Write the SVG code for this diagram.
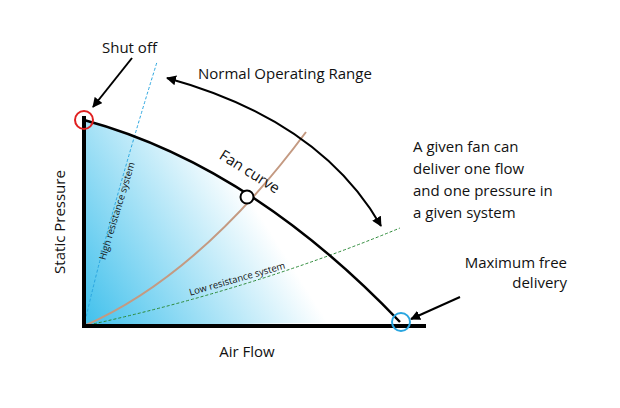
<svg xmlns="http://www.w3.org/2000/svg" width="620" height="408" viewBox="0 0 620 408">
<style>
text{font-family:"Open Sans","Liberation Sans",sans-serif;fill:#111}
.l{font-size:15px}
.s{font-size:9.5px}
.ar{fill:none;stroke:#000;stroke-width:2}
</style>
<defs>
<linearGradient id="g" gradientUnits="userSpaceOnUse" x1="84" y1="326" x2="260" y2="215">
<stop offset="0" stop-color="#3fc0ec"/><stop offset="1" stop-color="#ffffff"/>
</linearGradient>
<marker id="ah" viewBox="0 0 10 10" refX="9" refY="5" markerWidth="5" markerHeight="5" orient="auto-start-reverse">
<path d="M0,0L10,5L0,10z" fill="#000"/></marker>
</defs>
<rect width="620" height="408" fill="#fff"/>
<path d="M84,120 Q250,165 400,322 L84,326Z" fill="url(#g)"/>
<g id="connectors">
<path d="M84,326 Q108,220 157,62" fill="none" stroke="#2aa6e0" stroke-width="1" stroke-dasharray="3,2"/>
<path d="M84,326 Q250,290 400,228" fill="none" stroke="#2e8b3a" stroke-width="1" stroke-dasharray="3,2"/>
<path d="M84,326 Q200,275 306,132" fill="none" stroke="#c49a82" stroke-width="2"/>
<path id="fan" d="M84,120 Q250,165 400,322" fill="none" stroke="#000" stroke-width="2.5"/>
<path d="M84,116 V326 H426" fill="none" stroke="#000" stroke-width="4"/>
<path class="ar" d="M167,78 Q320,120 381,226" marker-start="url(#ah)" marker-end="url(#ah)"/>
<path class="ar" d="M132,58 L93,107" marker-end="url(#ah)"/>
<path class="ar" d="M460,297 L411,319" marker-end="url(#ah)"/>
</g>
<g id="shutoff"><circle cx="84" cy="120" r="9" fill="none" stroke="#e02020" stroke-width="2"/></g>
<g id="maxfree"><circle cx="401" cy="322" r="9" fill="none" stroke="#2aa6e0" stroke-width="2"/></g>
<g id="op"><circle cx="247" cy="197" r="6.5" fill="#fff" stroke="#000" stroke-width="2"/></g>
<g id="labels">
<text class="l" x="102" y="53">Shut off</text>
<text class="l" x="198" y="79">Normal Operating Range</text>
<text class="l" transform="translate(247,176) rotate(32)" text-anchor="middle">Fan curve</text>
<text class="l" x="413" y="152">A given fan can</text>
<text class="l" x="413" y="174">deliver one flow</text>
<text class="l" x="413" y="196">and one pressure in</text>
<text class="l" x="413" y="218">a given system</text>
<text class="l" x="567" y="268" text-anchor="end">Maximum free</text>
<text class="l" x="567" y="288" text-anchor="end">delivery</text>
<text class="l" x="247" y="357" text-anchor="middle">Air Flow</text>
<text class="l" transform="translate(65,222) rotate(-90)" text-anchor="middle">Static Pressure</text>
<text class="s" transform="translate(120,212) rotate(-73)" text-anchor="middle">High resistance system</text>
<text class="s" transform="translate(238,282) rotate(-16)" text-anchor="middle">Low resistance system</text>
</g>
</svg>
